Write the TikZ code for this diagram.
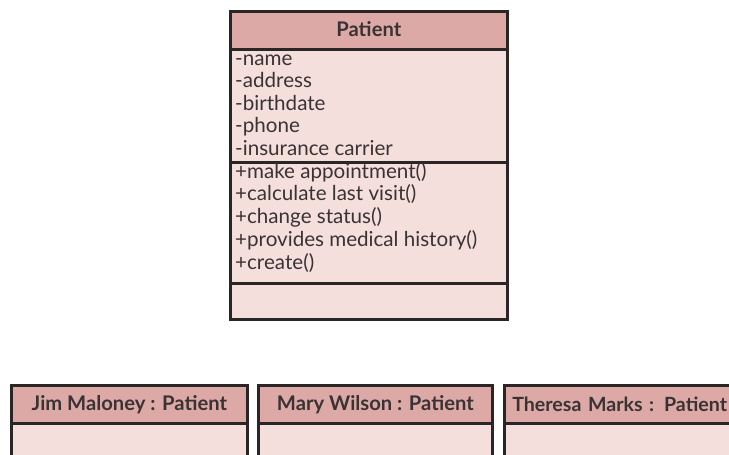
\documentclass[tikz,border=0pt]{standalone}
\usepackage{fontspec}
\setmainfont{Lato}
\definecolor{hdrfill}{HTML}{DDA9A6}
\definecolor{bodyfill}{HTML}{F4DFDD}
\definecolor{edge}{HTML}{2A2626}
\definecolor{ink}{HTML}{3A3333}
\tikzset{
  compart/.style={draw=edge, line width=2.7pt, rectangle, inner sep=0pt, anchor=north west},
  hdr/.style={compart, fill=hdrfill, text=ink, font=\fontsize{20.2}{22}\selectfont\bfseries},
  bodybox/.style={compart, fill=bodyfill},
  member/.style={anchor=base west, inner sep=0pt, text=ink, font=\fontsize{20.6}{22.8}\selectfont},
}
\begin{document}
\begin{tikzpicture}[x=1pt, y=-1pt]
\useasboundingbox (0,0) rectangle (729,455);
\clip (0,0) rectangle (729,455);
\fill[white] (0,0) rectangle (729,455);

% class Patient: name, attributes, operations, empty compartment
\node[bodybox, minimum width=277pt, minimum height=36pt] (pops) at (229,282) {};
\node[bodybox, minimum width=277pt, minimum height=121pt] (pmeth) at (229,161) {};
\node[bodybox, minimum width=277pt, minimum height=113pt] (pattr) at (229,48) {};
\node[hdr, minimum width=277pt, minimum height=38pt] (patient) at (229,10) {\raisebox{2pt}{Patient}};

% attribute and operation lines, one baseline every 22.8pt
\foreach \txt [count=\i] in {-name, -address, -birthdate, -phone, -insurance carrier}
  \node[member] (attr\i) at ([xshift=6pt, yshift={-17pt-(\i-1)*22.6pt}]pattr.north west) {\txt};
\foreach \txt [count=\i] in {+make appointment(), +calculate last visit(), +change status(),
    +provides medical history(), +create()}
  \node[member] (op\i) at ([xshift=6pt, yshift={-17pt-(\i-1)*22.8pt}]pmeth.north west) {\txt};

% instances of Patient
\node[bodybox, minimum width=236pt, minimum height=60pt] (jimbody) at (10,422) {};
\node[hdr, minimum width=236pt, minimum height=38pt] (jim) at (10,384) {Jim Maloney : Patient};

\node[bodybox, minimum width=234pt, minimum height=60pt] (marybody) at (257,422) {};
\node[hdr, minimum width=234pt, minimum height=38pt] (mary) at (257,384) {Mary Wilson : Patient};

\node[bodybox, minimum width=240pt, minimum height=60pt] (theresabody) at (503,422) {};
\node[hdr, minimum width=240pt, minimum height=38pt, text width=236pt, align=left,
  font=\fontsize{19.6}{22}\selectfont\bfseries] (theresa) at (503,384) {\hspace*{6pt}Theresa Marks : Patient};
\end{tikzpicture}
\end{document}
